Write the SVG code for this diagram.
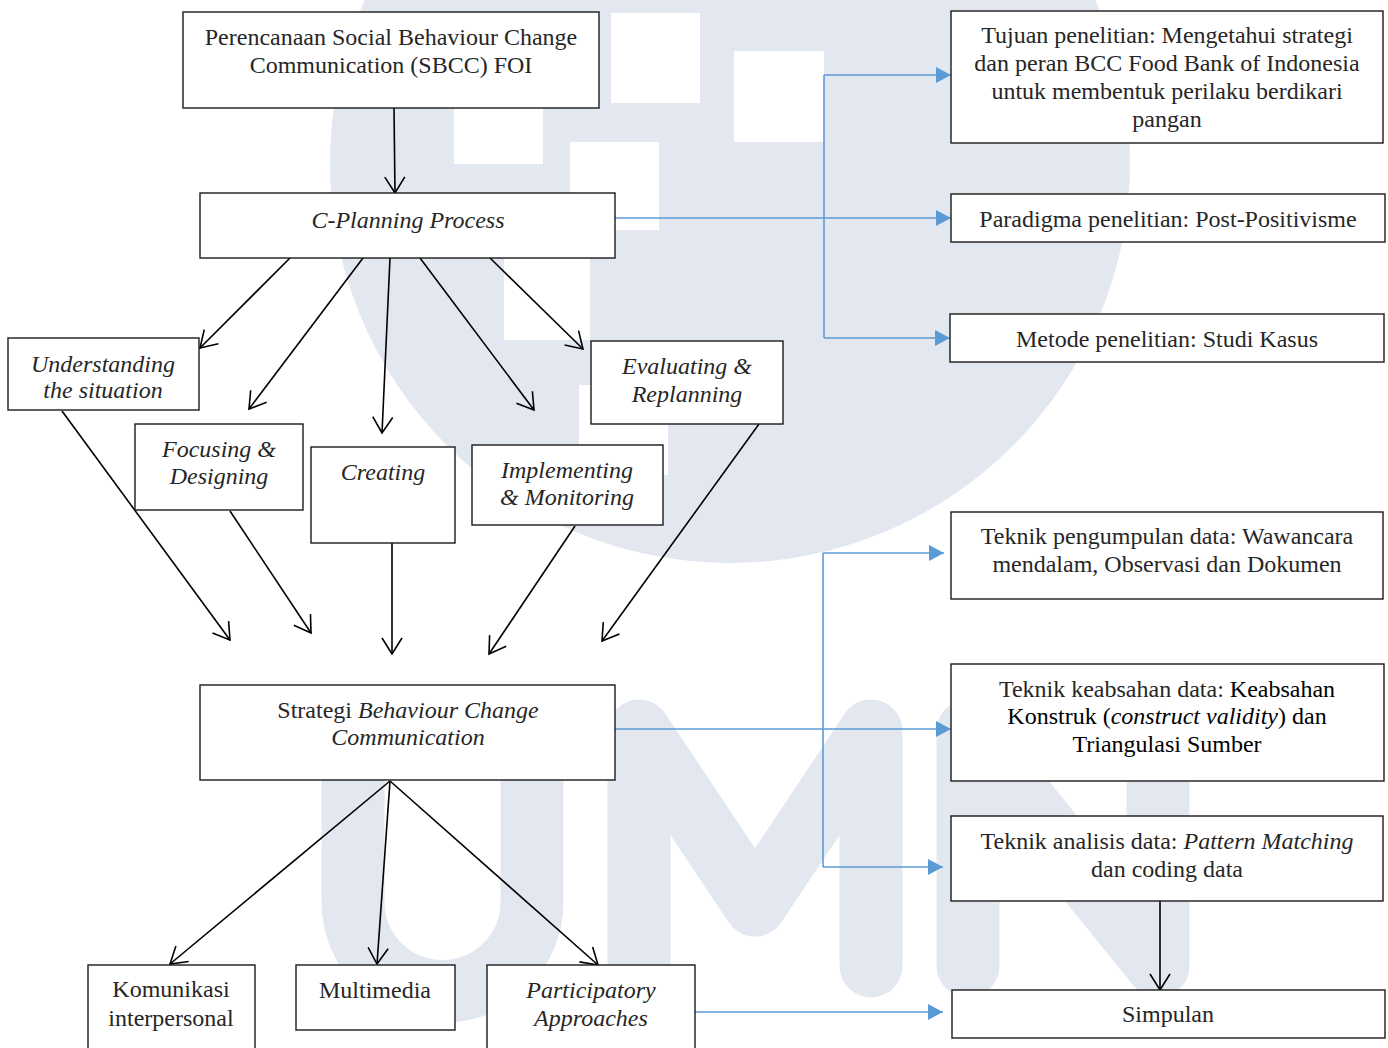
<svg xmlns="http://www.w3.org/2000/svg" width="1388" height="1048" viewBox="0 0 1388 1048">
<style>
.box{fill:#fff;stroke:#1a1a1a;stroke-width:1.4}
.t{font-family:"Liberation Serif","Times New Roman",serif;font-size:24px;fill:#262626;text-anchor:middle}
.i{font-style:italic}
.k{fill:#000}
.ln{fill:none;stroke:#000;stroke-width:1.6}
.bl{fill:none;stroke:#5B9BD5;stroke-width:1.6}
.wm{fill:#E3E7EF}
.wl{fill:none;stroke:#E3E7EF;stroke-width:63;stroke-linecap:round;stroke-linejoin:round}
</style>
<defs>
<marker id="ah" markerUnits="userSpaceOnUse" viewBox="-18 -12 20 24" refX="0" refY="0" markerWidth="20" markerHeight="24" orient="auto" overflow="visible">
<path d="M-16,-10 L0,0 L-16,10" fill="none" stroke="#000" stroke-width="1.6"/>
</marker>
<marker id="bh" markerUnits="userSpaceOnUse" viewBox="-16 -9 17 18" refX="0" refY="0" markerWidth="17" markerHeight="18" orient="auto" overflow="visible">
<path d="M-15,-8 L0,0 L-15,8 Z" fill="#5B9BD5"/>
</marker>
</defs>
<rect width="1388" height="1048" fill="#fff"/>
<g id="watermark">
<circle class="wm" cx="730" cy="163" r="400"/>
<rect x="611" y="13" width="89" height="90" fill="#fff"/>
<rect x="734" y="51" width="90" height="91" fill="#fff"/>
<rect x="454" y="74" width="89" height="90" fill="#fff"/>
<rect x="570" y="142" width="89" height="88" fill="#fff"/>
<rect x="504" y="250" width="86" height="90" fill="#fff"/>
<rect x="579" y="385" width="89" height="90" fill="#fff"/>
<path class="wl" d="M353,731 V902 A89.5,89.5 0 0 0 532,902 V731"/>
<path class="wl" d="M639,966 V731 L755,905 L871,731 V966"/>
<path class="wl" d="M968,966 V731 L1158,966 V731"/>
</g>
<g id="connectors">
<line class="ln" x1="394" y1="108" x2="395" y2="193" marker-end="url(#ah)"/>
<line class="ln" x1="290" y1="258" x2="200" y2="348" marker-end="url(#ah)"/>
<line class="ln" x1="363" y1="258" x2="249" y2="409" marker-end="url(#ah)"/>
<line class="ln" x1="390" y1="258" x2="382" y2="433" marker-end="url(#ah)"/>
<line class="ln" x1="420" y1="258" x2="534" y2="410" marker-end="url(#ah)"/>
<line class="ln" x1="490" y1="258" x2="583" y2="349" marker-end="url(#ah)"/>
<line class="ln" x1="62" y1="411" x2="230" y2="640" marker-end="url(#ah)"/>
<line class="ln" x1="230" y1="511" x2="311" y2="633" marker-end="url(#ah)"/>
<line class="ln" x1="392" y1="543" x2="392" y2="654" marker-end="url(#ah)"/>
<line class="ln" x1="575" y1="526" x2="489" y2="654" marker-end="url(#ah)"/>
<line class="ln" x1="759" y1="424" x2="602" y2="641" marker-end="url(#ah)"/>
<line class="ln" x1="390" y1="781" x2="170" y2="964" marker-end="url(#ah)"/>
<line class="ln" x1="390" y1="781" x2="377" y2="964" marker-end="url(#ah)"/>
<line class="ln" x1="390" y1="781" x2="598" y2="965" marker-end="url(#ah)"/>
<line class="ln" x1="1160" y1="901" x2="1160" y2="990" marker-end="url(#ah)"/>
<line class="bl" x1="615" y1="218" x2="951" y2="218" marker-end="url(#bh)"/>
<line class="bl" x1="824" y1="75" x2="824" y2="338"/>
<line class="bl" x1="824" y1="75" x2="951" y2="75" marker-end="url(#bh)"/>
<line class="bl" x1="824" y1="338" x2="950" y2="338" marker-end="url(#bh)"/>
<line class="bl" x1="823" y1="553" x2="823" y2="867"/>
<line class="bl" x1="823" y1="553" x2="944" y2="553" marker-end="url(#bh)"/>
<line class="bl" x1="823" y1="867" x2="943" y2="867" marker-end="url(#bh)"/>
<line class="bl" x1="615" y1="729" x2="951" y2="729" marker-end="url(#bh)"/>
<line class="bl" x1="695" y1="1012" x2="943" y2="1012" marker-end="url(#bh)"/>
</g>
<g id="n-sbcc"><rect class="box" x="183" y="12" width="416" height="96"/>
<text class="t" x="391" y="45">Perencanaan Social Behaviour Change</text>
<text class="t" x="391" y="73">Communication (SBCC) FOI</text></g>
<g id="n-cplanning"><rect class="box" x="200" y="193" width="415" height="65"/>
<text class="t i" x="408" y="228">C-Planning Process</text></g>
<g id="n-understanding"><rect class="box" x="8" y="338" width="191" height="72"/>
<text class="t i" x="103" y="372">Understanding</text>
<text class="t i" x="103" y="398">the situation</text></g>
<g id="n-focusing"><rect class="box" x="135" y="424" width="168" height="86"/>
<text class="t i" x="219" y="457">Focusing &amp;</text>
<text class="t i" x="219" y="484">Designing</text></g>
<g id="n-creating"><rect class="box" x="311" y="447" width="144" height="96"/>
<text class="t i" x="383" y="480">Creating</text></g>
<g id="n-implementing"><rect class="box" x="472" y="445" width="191" height="80"/>
<text class="t i" x="567" y="478">Implementing</text>
<text class="t i" x="567" y="505">&amp; Monitoring</text></g>
<g id="n-evaluating"><rect class="box" x="591" y="341" width="192" height="83"/>
<text class="t i" x="687" y="374">Evaluating &amp;</text>
<text class="t i" x="687" y="402">Replanning</text></g>
<g id="n-strategi"><rect class="box" x="200" y="685" width="415" height="95"/>
<text class="t" x="408" y="718">Strategi <tspan class="i">Behaviour Change</tspan></text>
<text class="t i" x="408" y="745">Communication</text></g>
<g id="n-komunikasi"><rect class="box" x="88" y="965" width="167" height="100"/>
<text class="t" x="171" y="997">Komunikasi</text>
<text class="t" x="171" y="1026">interpersonal</text></g>
<g id="n-multimedia"><rect class="box" x="296" y="965" width="159" height="65"/>
<text class="t" x="375" y="998">Multimedia</text></g>
<g id="n-participatory"><rect class="box" x="487" y="965" width="208" height="100"/>
<text class="t i" x="591" y="998">Participatory</text>
<text class="t i" x="591" y="1026">Approaches</text></g>
<g id="n-tujuan"><rect class="box" x="951" y="11" width="432" height="132"/>
<text class="t" x="1167" y="43">Tujuan penelitian: Mengetahui strategi</text>
<text class="t" x="1167" y="71">dan peran BCC Food Bank of Indonesia</text>
<text class="t" x="1167" y="99">untuk membentuk perilaku berdikari</text>
<text class="t" x="1167" y="127">pangan</text></g>
<g id="n-paradigma"><rect class="box" x="951" y="194" width="434" height="48"/>
<text class="t" x="1168" y="227">Paradigma penelitian: Post-Positivisme</text></g>
<g id="n-metode"><rect class="box" x="950" y="314" width="434" height="48"/>
<text class="t" x="1167" y="347">Metode penelitian: Studi Kasus</text></g>
<g id="n-pengumpulan"><rect class="box" x="951" y="512" width="432" height="87"/>
<text class="t" x="1167" y="544">Teknik pengumpulan data: Wawancara</text>
<text class="t" x="1167" y="572">mendalam, Observasi dan Dokumen</text></g>
<g id="n-keabsahan"><rect class="box" x="951" y="664" width="433" height="117"/>
<text class="t" x="1167" y="697">Teknik keabsahan data: <tspan class="k">Keabsahan</tspan></text>
<text class="t k" x="1167" y="724">Konstruk (<tspan class="i">construct validity</tspan>) dan</text>
<text class="t k" x="1167" y="752">Triangulasi Sumber</text></g>
<g id="n-analisis"><rect class="box" x="951" y="816" width="432" height="85"/>
<text class="t" x="1167" y="849">Teknik analisis data: <tspan class="i">Pattern Matching</tspan></text>
<text class="t" x="1167" y="877">dan coding data</text></g>
<g id="n-simpulan"><rect class="box" x="952" y="990" width="433" height="48"/>
<text class="t" x="1168" y="1022">Simpulan</text></g>
</svg>
